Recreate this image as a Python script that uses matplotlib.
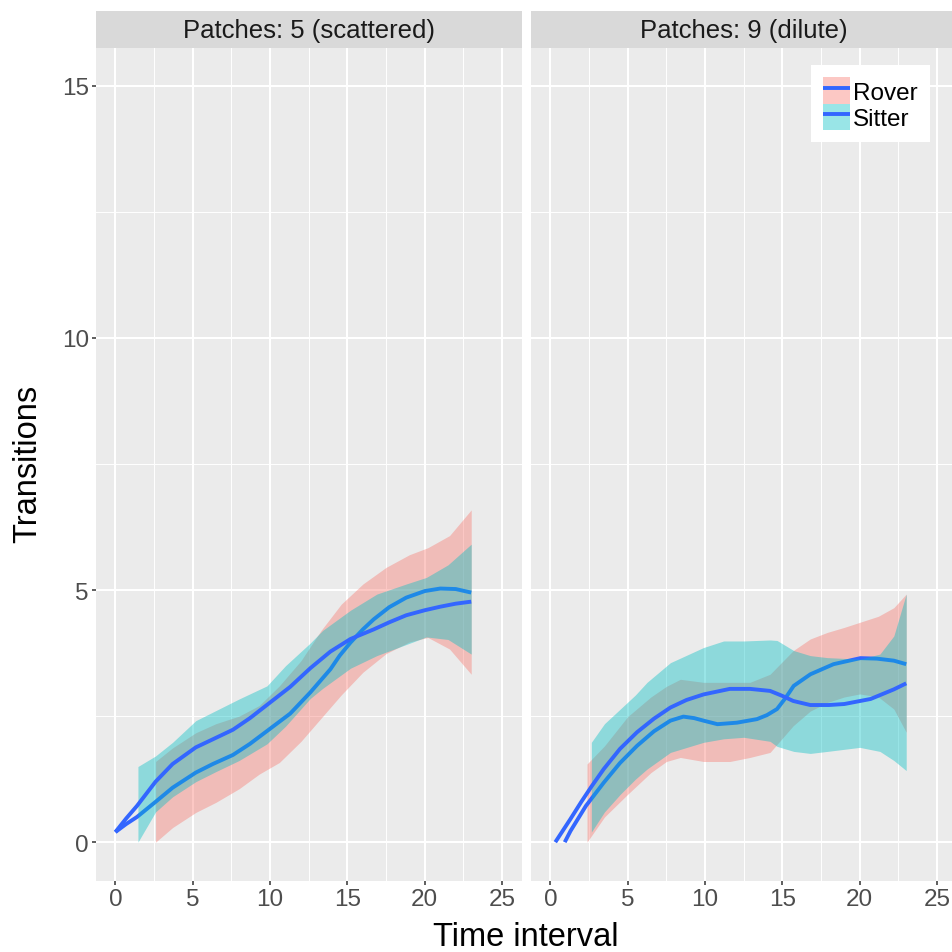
import numpy as np
import matplotlib
matplotlib.use("Agg")
from matplotlib import pyplot as plt
from matplotlib.patches import Patch
from matplotlib.lines import Line2D
from matplotlib.legend_handler import HandlerTuple

plt.rcParams['font.family'] = ['Liberation Sans', 'DejaVu Sans']

# ---- data ----
panels = ["Patches: 5 (scattered)", "Patches: 9 (dilute)"]

# panel 1: scattered
p1_rover_x = [0, 0.7, 1.4, 2.6, 3.7, 5.2, 6.3, 7.6, 8.7, 10, 11.3, 12.6, 13.9, 14.5, 15.2, 16.0, 16.7, 17.7, 18.8, 20.0, 21.0, 22.0, 23.0]
p1_rover_y = [0.2, 0.36, 0.5, 0.8, 1.08, 1.38, 1.55, 1.73, 1.95, 2.25, 2.55, 2.97, 3.43, 3.7, 3.96, 4.22, 4.42, 4.66, 4.85, 4.98, 5.03, 5.02, 4.95]
p1_sitter_x = [0, 0.7, 1.4, 2.6, 3.7, 5.2, 6.3, 7.6, 8.7, 10, 11.3, 12.6, 13.9, 15.2, 16.7, 17.7, 18.8, 20.0, 21.0, 22.0, 23.0]
p1_sitter_y = [0.2, 0.47, 0.72, 1.2, 1.55, 1.88, 2.04, 2.23, 2.46, 2.77, 3.08, 3.45, 3.78, 4.03, 4.22, 4.36, 4.5, 4.6, 4.67, 4.73, 4.77]

p1_rover_band_x = [2.6, 3.7, 5.2, 6.5, 8.0, 9.3, 10.6, 12.0, 13.3, 14.6, 16.0, 17.5, 19.0, 20.2, 21.6, 23.0]
p1_rover_lo = [0, 0.29, 0.59, 0.79, 1.06, 1.35, 1.58, 2.0, 2.46, 2.92, 3.37, 3.74, 3.97, 4.06, 3.83, 3.33]
p1_rover_hi = [1.6, 1.87, 2.17, 2.35, 2.5, 2.71, 3.1, 3.6, 4.2, 4.72, 5.12, 5.45, 5.7, 5.84, 6.08, 6.59]

p1_sitter_band_x = [1.46, 2.6, 3.7, 5.2, 6.5, 8.0, 9.8, 11.0, 12.6, 13.4, 15.2, 16.9, 18.8, 20.1, 21.5, 23.0]
p1_sitter_lo = [0, 0.6, 0.9, 1.2, 1.4, 1.62, 1.95, 2.3, 2.85, 3.05, 3.45, 3.7, 3.92, 4.07, 4.02, 3.73]
p1_sitter_hi = [1.5, 1.71, 1.98, 2.41, 2.61, 2.84, 3.1, 3.5, 3.95, 4.2, 4.6, 4.92, 5.12, 5.25, 5.5, 5.91]

# panel 2: dilute
p2_rover_x = [0.93, 1.3, 2.3, 3.45, 4.5, 5.6, 6.7, 7.76, 8.6, 9.3, 9.9, 10.8, 12.06, 13.35, 14.0, 14.65, 15.2, 15.73, 16.81, 18.3, 20.04, 21.1, 22.2, 23.0]
p2_rover_y = [0.0, 0.22, 0.72, 1.18, 1.57, 1.91, 2.2, 2.41, 2.49, 2.46, 2.41, 2.34, 2.37, 2.44, 2.52, 2.64, 2.86, 3.1, 3.33, 3.53, 3.65, 3.64, 3.6, 3.53]
p2_sitter_x = [0.32, 1.3, 2.0, 2.65, 3.45, 4.5, 5.6, 6.7, 7.76, 8.8, 9.9, 11.6, 12.9, 14.2, 15.0, 15.7, 16.8, 18.0, 19.0, 20.7, 22.2, 23.0]
p2_sitter_y = [0.0, 0.46, 0.8, 1.1, 1.45, 1.85, 2.18, 2.45, 2.67, 2.82, 2.93, 3.04, 3.04, 3.0, 2.9, 2.8, 2.72, 2.72, 2.74, 2.84, 3.03, 3.15]

p2_rover_band_x = [2.37, 3.5, 5.0, 6.5, 7.5, 8.4, 9.9, 11.6, 12.9, 14.2, 15.7, 16.8, 17.9, 19.0, 20.0, 21.2, 22.2, 23.0]
p2_rover_lo = [0, 0.5, 0.95, 1.38, 1.6, 1.68, 1.6, 1.6, 1.68, 1.78, 2.31, 2.6, 2.77, 2.88, 2.94, 2.88, 2.64, 2.18]
p2_rover_hi = [1.55, 1.91, 2.49, 2.88, 3.09, 3.23, 3.17, 3.17, 3.17, 3.33, 3.8, 4.03, 4.16, 4.26, 4.36, 4.48, 4.65, 4.92]

p2_sitter_band_x = [2.65, 3.5, 4.52, 5.5, 6.25, 7.76, 9.9, 11.2, 12.5, 14.2, 14.65, 15.73, 16.8, 17.9, 20.0, 21.3, 22.2, 23.0]
p2_sitter_lo = [0.2, 0.6, 0.95, 1.25, 1.45, 1.78, 1.98, 2.05, 2.08, 2.0, 1.9, 1.8, 1.76, 1.8, 1.88, 1.8, 1.62, 1.42]
p2_sitter_hi = [1.98, 2.35, 2.64, 2.92, 3.17, 3.56, 3.86, 3.99, 3.99, 4.01, 4.0, 3.8, 3.7, 3.66, 3.63, 3.73, 4.09, 4.92]

groups = ["Rover", "Sitter"]
fill_colors = ['#F8766D', '#00BFC4']
line_color = '#3366FF'

data = [
    [(p1_rover_x, p1_rover_y, p1_rover_band_x, p1_rover_lo, p1_rover_hi),
     (p1_sitter_x, p1_sitter_y, p1_sitter_band_x, p1_sitter_lo, p1_sitter_hi)],
    [(p2_rover_x, p2_rover_y, p2_rover_band_x, p2_rover_lo, p2_rover_hi),
     (p2_sitter_x, p2_sitter_y, p2_sitter_band_x, p2_sitter_lo, p2_sitter_hi)],
]

# ---- layout (pixels of the 953x953 figure) ----
W = H = 953.0


def box(l, t, r, b):
    return [l / W, 1 - b / H, (r - l) / W, (b - t) / H]


fig = plt.figure(figsize=(9.53, 9.53), dpi=100)
panel_px = [(96, 521.5), (531, 956.5)]

for i, (l, r) in enumerate(panel_px):
    ax = fig.add_axes(box(l, 49, r, 882))
    ax.set_facecolor('#EBEBEB')
    for s in ax.spines.values():
        s.set_visible(False)
    ax.set_xlim(-1.25, 26.25)
    ax.set_ylim(-0.77, 15.75)
    ax.set_xticks([0, 5, 10, 15, 20, 25])
    ax.set_xticks([2.5, 7.5, 12.5, 17.5, 22.5], minor=True)
    ax.set_yticks([0, 5, 10, 15])
    ax.set_yticks([2.5, 7.5, 12.5], minor=True)
    ax.grid(which='major', color='white', linewidth=1.45)
    ax.grid(which='minor', color='white', linewidth=0.7)
    ax.set_axisbelow(True)
    ax.tick_params(which='minor', length=0)
    ax.tick_params(which='major', length=3.2, width=1.1, color='#333333',
                   labelsize=17.5, labelcolor='#4D4D4D', pad=2)
    if i == 1:
        ax.tick_params(axis='y', which='major', left=False, labelleft=False)

    z = 2
    for g, (lx, ly, bx, lo, hi) in enumerate(data[i]):
        ax.fill_between(bx, lo, hi, color=fill_colors[g], alpha=0.4,
                        linewidth=0, zorder=z)
        ax.plot(lx, ly, color=line_color, linewidth=2.8, zorder=z + 1,
                solid_capstyle='butt', solid_joinstyle='round')
        z += 2

    # strip
    sax = fig.add_axes(box(l, 12, r, 49))
    sax.set_facecolor('#D9D9D9')
    sax.set_xticks([])
    sax.set_yticks([])
    for s in sax.spines.values():
        s.set_visible(False)
    sax.text(0.5, 0.48, panels[i], ha='center', va='center', fontsize=18.5,
             color='#1A1A1A', transform=sax.transAxes)

# axis titles
fig.text(526 / W, 1 - 938 / H, "Time interval", ha='center', va='center',
         fontsize=23.5, color='black')
fig.text(28 / W, 1 - 464 / H, "Transitions", ha='center', va='center',
         rotation=90, fontsize=23.5, color='black')

# legend
handles = []
for g in range(2):
    handles.append((Patch(facecolor=fill_colors[g], alpha=0.4, edgecolor='none'),
                    Line2D([0], [0], color=line_color, linewidth=2.8,
                           solid_capstyle='butt')))
leg = fig.legend(handles, groups, loc='upper right',
                 bbox_to_anchor=(930 / W, 1 - 66 / H),
                 handler_map={tuple: HandlerTuple(ndivide=1, pad=0)},
                 fontsize=17.5, frameon=True, fancybox=False, framealpha=1,
                 edgecolor='white', facecolor='white',
                 handlelength=1.1, handleheight=1.3, labelspacing=0.0,
                 handletextpad=0.15, borderpad=0.5, borderaxespad=0)
leg.get_frame().set_linewidth(0)

fig.savefig("out.png", dpi=100)
